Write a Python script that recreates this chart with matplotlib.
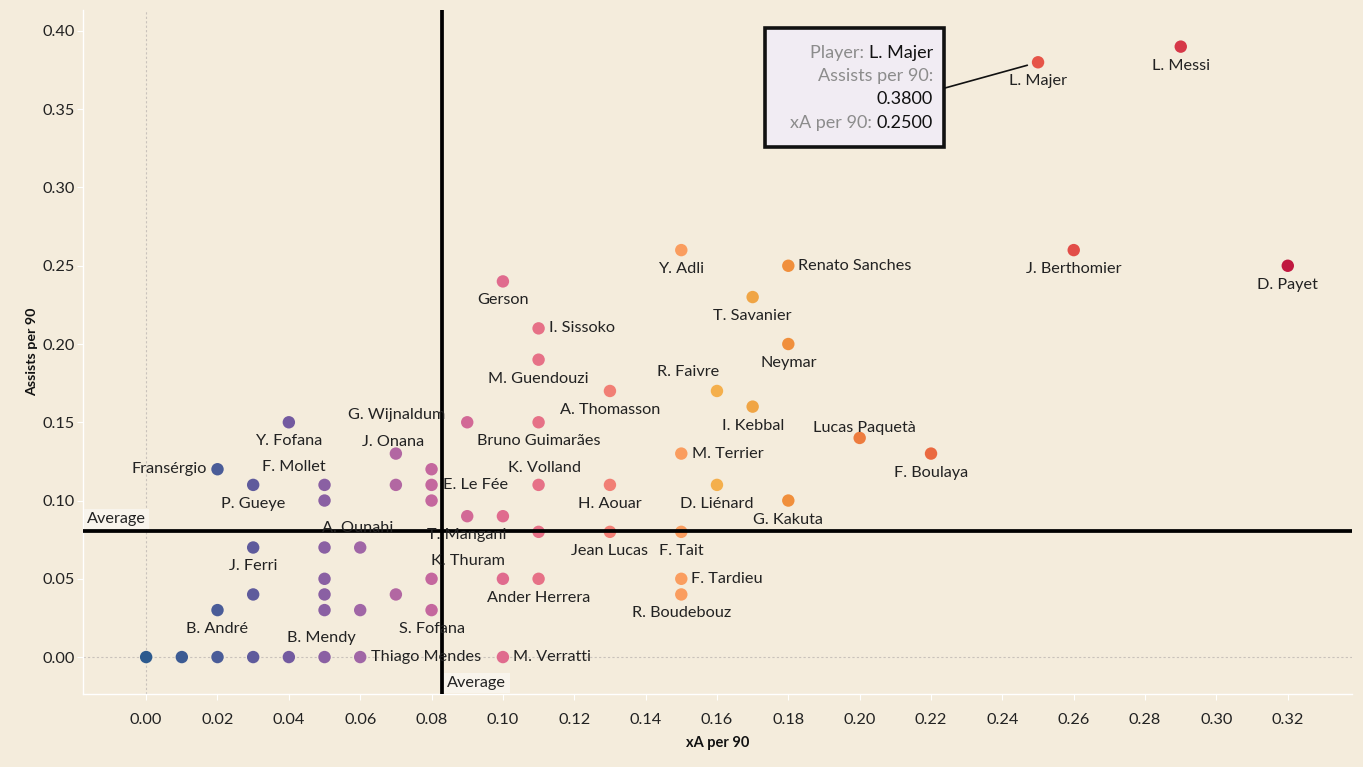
import matplotlib
matplotlib.use("Agg")
import matplotlib.pyplot as plt
import numpy as np
from matplotlib.colors import LinearSegmentedColormap
from matplotlib.patches import Rectangle

# ---------------- data ----------------
players = ["", "", "", "", "", "B. Mendy", "Thiago Mendes", "M. Verratti",
           "B. André", "", "", "S. Fofana",
           "", "", "", "R. Boudebouz",
           "", "K. Thuram", "", "Ander Herrera", "F. Tardieu",
           "J. Ferri", "", "A. Ounahi",
           "", "Jean Lucas", "F. Tait",
           "T. Mangani", "",
           "", "", "G. Kakuta",
           "P. Gueye", "F. Mollet", "", "E. Le Fée", "K. Volland", "H. Aouar", "D. Liénard",
           "Fransérgio", "",
           "J. Onana", "M. Terrier", "F. Boulaya",
           "Lucas Paquetà",
           "Y. Fofana", "G. Wijnaldum", "Bruno Guimarães",
           "I. Kebbal",
           "A. Thomasson", "R. Faivre",
           "M. Guendouzi", "Neymar", "I. Sissoko", "T. Savanier", "Gerson",
           "Renato Sanches", "D. Payet", "Y. Adli", "J. Berthomier",
           "L. Majer", "L. Messi"]
xa_per90 = [0.00, 0.01, 0.02, 0.03, 0.04, 0.05, 0.06, 0.10,
            0.02, 0.05, 0.06, 0.08,
            0.03, 0.05, 0.07, 0.15,
            0.05, 0.08, 0.10, 0.11, 0.15,
            0.03, 0.05, 0.06,
            0.11, 0.13, 0.15,
            0.09, 0.10,
            0.05, 0.08, 0.18,
            0.03, 0.05, 0.07, 0.08, 0.11, 0.13, 0.16,
            0.02, 0.08,
            0.07, 0.15, 0.22,
            0.20,
            0.04, 0.09, 0.11,
            0.17,
            0.13, 0.16,
            0.11, 0.18, 0.11, 0.17, 0.10,
            0.18, 0.32, 0.15, 0.26,
            0.25, 0.29]
assists_per90 = [0.00, 0.00, 0.00, 0.00, 0.00, 0.00, 0.00, 0.00,
                 0.03, 0.03, 0.03, 0.03,
                 0.04, 0.04, 0.04, 0.04,
                 0.05, 0.05, 0.05, 0.05, 0.05,
                 0.07, 0.07, 0.07,
                 0.08, 0.08, 0.08,
                 0.09, 0.09,
                 0.10, 0.10, 0.10,
                 0.11, 0.11, 0.11, 0.11, 0.11, 0.11, 0.11,
                 0.12, 0.12,
                 0.13, 0.13, 0.13,
                 0.14,
                 0.15, 0.15, 0.15,
                 0.16,
                 0.17, 0.17,
                 0.19, 0.20, 0.21, 0.23, 0.24,
                 0.25, 0.25, 0.26, 0.26,
                 0.38, 0.39]
avg_xa = 0.083
avg_assists = 0.0805
x_ticks = [0.00, 0.02, 0.04, 0.06, 0.08, 0.10, 0.12, 0.14, 0.16, 0.18, 0.20,
           0.22, 0.24, 0.26, 0.28, 0.30, 0.32]
y_ticks = [0.00, 0.05, 0.10, 0.15, 0.20, 0.25, 0.30, 0.35, 0.40]
tooltip_player = "L. Majer"
tooltip_assists = 0.38
tooltip_xa = 0.25

# ---------------- label placement (pixels: dx, dy up, ha) ----------------
BELOW = (0, -19, "center")
RIGHT = (10, 0, "left")
label_place = {
    "B. Mendy": (-3, 19, "center"),
    "Thiago Mendes": (11, 0, "left"),
    "M. Verratti": RIGHT,
    "A. Ounahi": (-3, 19, "center"),
    "K. Thuram": (36, 18, "center"),
    "F. Tardieu": RIGHT,
    "F. Mollet": (-31, 18, "center"),
    "E. Le Fée": (11, 0, "left"),
    "K. Volland": (6, 17, "center"),
    "Fransérgio": (-11, 0, "right"),
    "J. Onana": (-3, 12, "center"),
    "M. Terrier": (11, 0, "left"),
    "Lucas Paquetà": (5, 10, "center"),
    "G. Wijnaldum": (-22, 7, "right"),
    "R. Faivre": (-29, 19, "center"),
    "I. Sissoko": RIGHT,
    "Renato Sanches": RIGHT,
}

# ---------------- style ----------------
BG = "#f4ecdc"
FONT = "Lato"
plt.rcParams["font.family"] = [FONT, "DejaVu Sans"]
LBL = 11.7

W, H = 1363, 767
fig = plt.figure(figsize=(W / 100, H / 100), dpi=100, facecolor=BG)
ax = fig.add_axes([83 / W, (H - 694) / H, (1352 - 83) / W, (694 - 10) / H], facecolor=BG)

cmap = LinearSegmentedColormap.from_list("xa", [
    (0.00 / 0.32, "#2d5a8e"), (0.02 / 0.32, "#4a5c98"), (0.04 / 0.32, "#735aa0"),
    (0.06 / 0.32, "#a066a6"), (0.08 / 0.32, "#c4679e"), (0.10 / 0.32, "#e06b8e"),
    (0.12 / 0.32, "#ec7680"), (0.14 / 0.32, "#f6886c"), (0.15 / 0.32, "#fa9c60"),
    (0.16 / 0.32, "#f4b04c"), (0.17 / 0.32, "#f0a646"), (0.18 / 0.32, "#f0903c"),
    (0.22 / 0.32, "#ea6a40"), (0.25 / 0.32, "#e65548"), (0.29 / 0.32, "#d63848"),
    (1.0, "#c01840")])

ax.set_xlim(-0.0177, 0.338)
ax.set_ylim(-0.0236, 0.4134)

# zero lines
ax.axvline(0, color="#c9c2bb", lw=0.8, ls=(0, (2, 2)), zorder=1)
ax.axhline(0, color="#c9c2bb", lw=0.8, ls=(0, (2, 2)), zorder=1)

xa = np.array(xa_per90)
ast = np.array(assists_per90)
ax.scatter(xa, ast, s=80, c=cmap(xa / 0.32), edgecolors="none", zorder=3)

# average lines
ax.axvline(avg_xa, color="black", lw=2.7, zorder=4)
ax.axhline(avg_assists, color="black", lw=2.7, zorder=4)

# labels
for name, x, y in zip(players, xa_per90, assists_per90):
    if not name:
        continue
    dx, dy, ha = label_place.get(name, BELOW)
    ax.annotate(name, (x, y), xytext=(dx, dy), textcoords="offset pixels",
                ha=ha, va="center", fontsize=LBL, color="#222222", zorder=5)

# "Average" markers
ax.annotate("Average", (ax.get_xlim()[0], avg_assists), xytext=(4, 12),
            textcoords="offset pixels", ha="left", va="center", fontsize=LBL,
            color="#222222", zorder=5,
            bbox=dict(boxstyle="square,pad=0.2", fc="#f8f4ec", ec="none"))
ax.annotate("Average", (avg_xa, ax.get_ylim()[0]), xytext=(5, 11),
            textcoords="offset pixels", ha="left", va="center", fontsize=LBL,
            color="#222222", zorder=5,
            bbox=dict(boxstyle="square,pad=0.2", fc="#f8f4ec", ec="none"))

# axes styling
for s in ["top", "right"]:
    ax.spines[s].set_visible(False)
for s in ["left", "bottom"]:
    ax.spines[s].set_color("#ffffff")
    ax.spines[s].set_linewidth(1.0)
ax.set_xticks(x_ticks)
ax.set_yticks(y_ticks)
ax.set_xticklabels([f"{t:.2f}" for t in x_ticks])
ax.set_yticklabels([f"{t:.2f}" for t in y_ticks])
ax.tick_params(axis="both", length=4, color="#ffffff", labelsize=11.7,
               labelcolor="#222222")
ax.tick_params(axis="y", pad=2)
ax.tick_params(axis="x", pad=10)
ax.set_xlabel("xA per 90", fontsize=10.5, fontweight="bold", color="#111111", labelpad=6)
ax.set_ylabel("Assists per 90", fontsize=10.3, fontweight="bold", color="#111111", labelpad=3)

# tooltip box
def fx(px):
    return px / W

def fy(py):
    return (H - py) / H

fig.patches.append(Rectangle((fx(765), fy(147)), fx(944) - fx(765), fy(28) - fy(147),
                             transform=fig.transFigure, facecolor="#f1ecf3",
                             edgecolor="#111111", lw=2.6, zorder=10))

fig.canvas.draw()
renderer = fig.canvas.get_renderer()
RX = fx(933)
GRAY = "#8c8c8c"
BLK = "#111111"
TIP = 13

def tip_line(py, gray_part, black_part):
    if black_part:
        t = fig.text(RX, fy(py), black_part, ha="right", va="baseline",
                     fontsize=TIP, color=BLK, zorder=11)
        bb = t.get_window_extent(renderer)
        x0 = bb.x0 / fig.bbox.width
    else:
        x0 = RX
    if gray_part:
        fig.text(x0, fy(py), gray_part, ha="right", va="baseline",
                 fontsize=TIP, color=GRAY, zorder=11)

tip_line(58, "Player: ", tooltip_player)
tip_line(81, "Assists per 90:", "")
tip_line(104, "", f"{tooltip_assists:.4f}")
tip_line(128, "xA per 90: ", f"{tooltip_xa:.4f}")

# connector to the point
ax.annotate("", xy=(tooltip_xa, tooltip_assists), xycoords="data",
            xytext=(fx(945), fy(88)), textcoords="figure fraction",
            arrowprops=dict(arrowstyle="-", color="#111111", lw=1.2,
                            shrinkA=0, shrinkB=8), zorder=9)

fig.savefig("out.png", dpi=100, facecolor=BG)
